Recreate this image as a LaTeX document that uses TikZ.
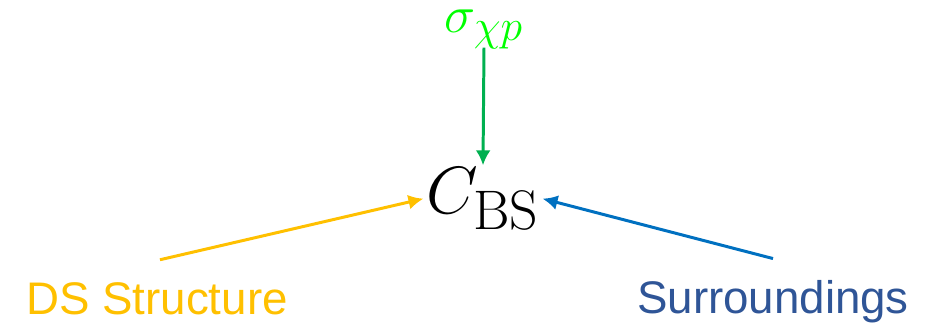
\documentclass[tikz,border=0pt]{standalone}
\usepackage[no-math]{fontspec}
\setmainfont{Liberation Sans}
\usetikzlibrary{arrows.meta,positioning}
\usepackage{xcolor}
\definecolor{sigcol}{RGB}{0,255,0}
\definecolor{grncol}{RGB}{0,176,80}
\definecolor{yelcol}{RGB}{255,192,0}
\definecolor{blucol}{RGB}{0,112,192}
\definecolor{surcol}{RGB}{47,85,151}
\newcommand{\Cbs}{C_{\mathrm{BS}}}

\begin{document}
\begin{tikzpicture}[>={Latex[length=0.3cm,width=0.3cm]},x=0.02cm,y=-0.02cm,
  every node/.style={inner sep=0pt},
  link/.style={->,line width=1.7pt},
  label/.style={font=\fontsize{26}{30}\selectfont}]
\useasboundingbox (0,0) rectangle (941,327);
% centre
\node[anchor=base,inner sep=1.5pt,font=\Huge] (cbs) at (483,214) {\scalebox{1.53}{$\Cbs$}};
% cross section
\node[anchor=base,text=sigcol,font=\Huge] (sigma) at (484,33) {\scalebox{1.2}{$\sigma_{\chi p}$}};
\draw[link,grncol] ([yshift=0.04cm]sigma.south) -- (cbs.north);
% structure
\node[label,anchor=base,text=yelcol] (ds) at (157,315) {DS Structure};
\draw[link,yelcol] ([xshift=0.06cm,yshift=0.46cm]ds.north) -- (cbs.west);
% surroundings
\node[label,anchor=base,text=surcol] (sur) at (773,314) {Surroundings};
\draw[link,blucol] ([yshift=0.44cm]sur.north) -- (cbs.east);
\end{tikzpicture}
\end{document}
